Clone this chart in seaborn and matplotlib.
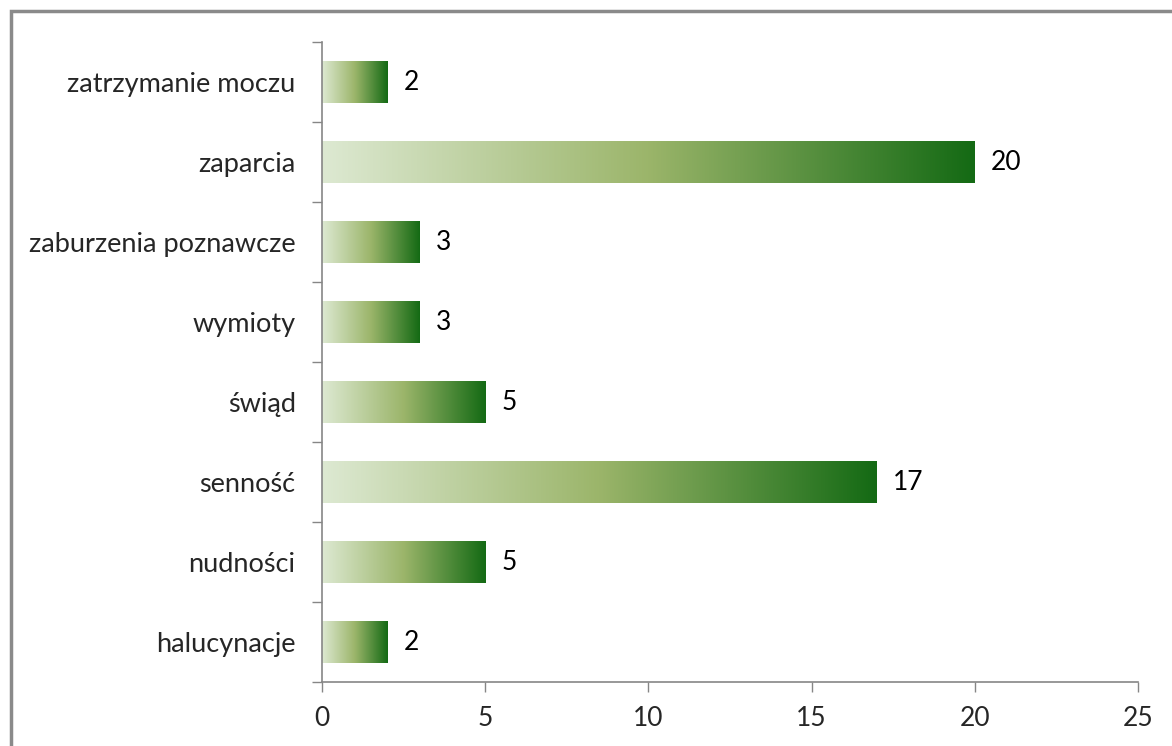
import numpy as np
import pandas as pd
import matplotlib
matplotlib.use("Agg")
import matplotlib.pyplot as plt
import seaborn as sns
from matplotlib.colors import LinearSegmentedColormap
from matplotlib.patches import Rectangle

categories = ["zatrzymanie moczu", "zaparcia", "zaburzenia poznawcze", "wymioty",
              "świąd", "senność", "nudności", "halucynacje"]
values = [2, 20, 3, 3, 5, 17, 5, 2]
x_ticks = [0, 5, 10, 15, 20, 25]

sns.set_theme(style="white")
plt.rcParams['font.family'] = ['Lato', 'DejaVu Sans']

df = pd.DataFrame({"kategoria": categories, "wartosc": values})

fig = plt.figure(figsize=(11.72, 7.46), dpi=100)
ax = fig.add_axes([322/1172, 1-682/746, (1138-322)/1172, (682-42)/746])

sns.barplot(data=df, y="kategoria", x="wartosc", orient="h", ax=ax,
            width=0.52, color="#9bb56a", edgecolor="none")

cmap = LinearSegmentedColormap.from_list(
    "g", [(0.0, "#dde9d2"), (0.5, "#9bb56a"), (1.0, "#146a14")])
grad = np.linspace(0, 1, 256).reshape(1, -1)
for p in ax.patches:
    x0, y0 = p.get_x(), p.get_y()
    w, h = p.get_width(), p.get_height()
    im = ax.imshow(grad, cmap=cmap, aspect="auto",
                   extent=(x0, x0 + w, y0 + h, y0), zorder=p.get_zorder() + 0.1)
    im.set_clip_path(p)
    ax.text(x0 + w + 0.5, y0 + h / 2, str(int(w)), va="center", ha="left",
            fontsize=19, color="#000000")

n = len(categories)
ax.set_xlim(0, 25)
ax.set_ylim(n - 0.5, -0.5)
ax.set_xticks(x_ticks)
ax.set_xticklabels([str(t) for t in x_ticks], fontsize=19)
ax.set_yticks(range(n))
ax.set_yticklabels(categories, fontsize=19.5)
ax.set_yticks(np.arange(-0.5, n, 1.0), minor=True)
ax.tick_params(axis="y", which="major", length=0, pad=19)
ax.tick_params(axis="y", which="minor", length=7, width=1, color="#868686", left=True)
ax.tick_params(axis="x", which="major", length=7, width=1, color="#868686", bottom=True, pad=10)
ax.set_xlabel("")
ax.set_ylabel("")

for s in ["top", "right"]:
    ax.spines[s].set_visible(False)
for s in ["left", "bottom"]:
    ax.spines[s].set_color("#868686")
    ax.spines[s].set_linewidth(1.2)

fig.patches.append(Rectangle((11/1172, -0.1), 1.2, 1 - 11/746 + 0.1,
                             transform=fig.transFigure, fill=False,
                             edgecolor="#8a8a8a", linewidth=2.5))

fig.savefig("out.png", dpi=100)
